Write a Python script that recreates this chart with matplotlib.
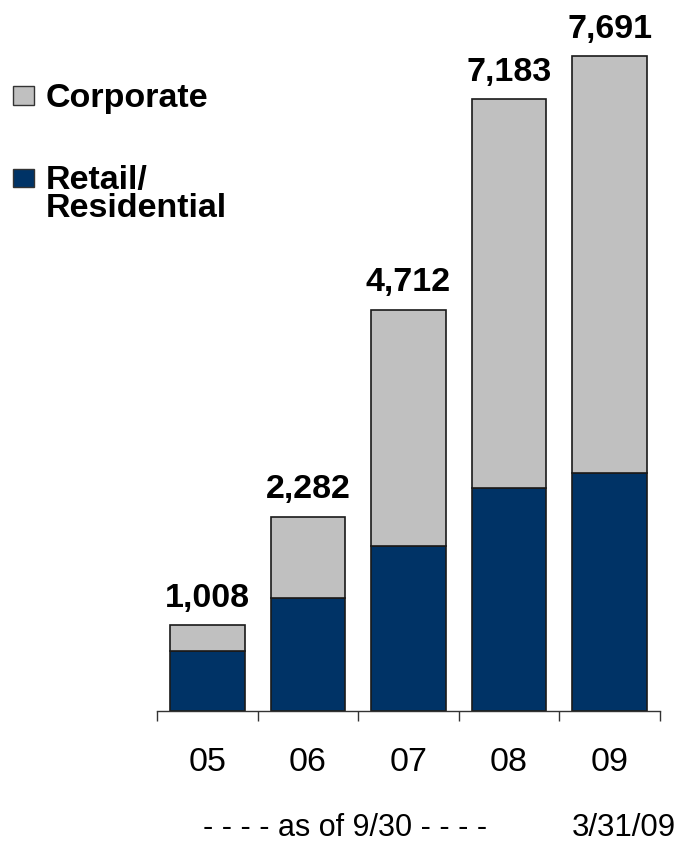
import matplotlib
matplotlib.use("Agg")
import matplotlib.pyplot as plt
from matplotlib.patches import Rectangle

plt.rcParams['font.family'] = ['Liberation Sans', 'DejaVu Sans']

years = ['05', '06', '07', '08', '09']
totals = [1008, 2282, 4712, 7183, 7691]
retail = [705, 1327, 1938, 2620, 2796]
corporate = [t - r for t, r in zip(totals, retail)]

navy = '#003366'
grey = '#C0C0C0'
edge = '#1a1a1a'

fig = plt.figure(figsize=(6.82, 8.45), dpi=100)
ax = fig.add_axes([157 / 682, 133 / 845, 503 / 682, 712 / 845])

x = list(range(len(years)))
ax.bar(x, retail, width=0.74, color=navy, edgecolor=edge, linewidth=1.2)
ax.bar(x, corporate, width=0.74, bottom=retail, color=grey, edgecolor=edge, linewidth=1.2)

for xi, t in zip(x, totals):
    ax.annotate(f'{t:,}', (xi, t), xytext=(0, 14), textcoords='offset points',
                ha='center', va='baseline', fontsize=24.5, fontweight='bold')

ax.set_xlim(-0.5, len(years) - 0.5)
ax.set_ylim(0, 8360)

# boundary ticks below the axis, year labels centred between them
ax.set_xticks([i - 0.5 for i in range(len(years) + 1)])
ax.set_xticklabels([])
ax.set_xticks(x, minor=True)
ax.set_xticklabels(years, minor=True, fontsize=24.5)
ax.tick_params(axis='x', which='major', length=7.5, width=1, color='#333333', direction='out')
ax.tick_params(axis='x', which='minor', length=0, pad=25)
ax.set_yticks([])
for side in ['top', 'right', 'left']:
    ax.spines[side].set_visible(False)
ax.spines['bottom'].set_color('#333333')
ax.spines['bottom'].set_linewidth(1)

# legend drawn by hand on the left
def px(xp, yp):
    return xp / 682, 1 - yp / 845

for y0, y1, c in [(87, 106, grey), (170, 188, navy)]:
    x0, yb = px(13, y1)
    fig.patches.append(Rectangle((x0, yb), 21 / 682, (y1 - y0) / 845, transform=fig.transFigure,
                                 facecolor=c, edgecolor='#333333', linewidth=1))

fig.text(*px(46, 107), 'Corporate', fontsize=24.5, fontweight='bold', va='baseline')
fig.text(*px(46, 189), 'Retail/', fontsize=24.5, fontweight='bold', va='baseline')
fig.text(*px(46, 217), 'Residential', fontsize=24.5, fontweight='bold', va='baseline')

fig.text(*px(345, 836), '- - - - as of 9/30 - - - -', fontsize=22, ha='center', va='baseline')
fig.text(*px(572, 836), '3/31/09', fontsize=22.5, ha='left', va='baseline')

fig.savefig('out.png', dpi=100)
